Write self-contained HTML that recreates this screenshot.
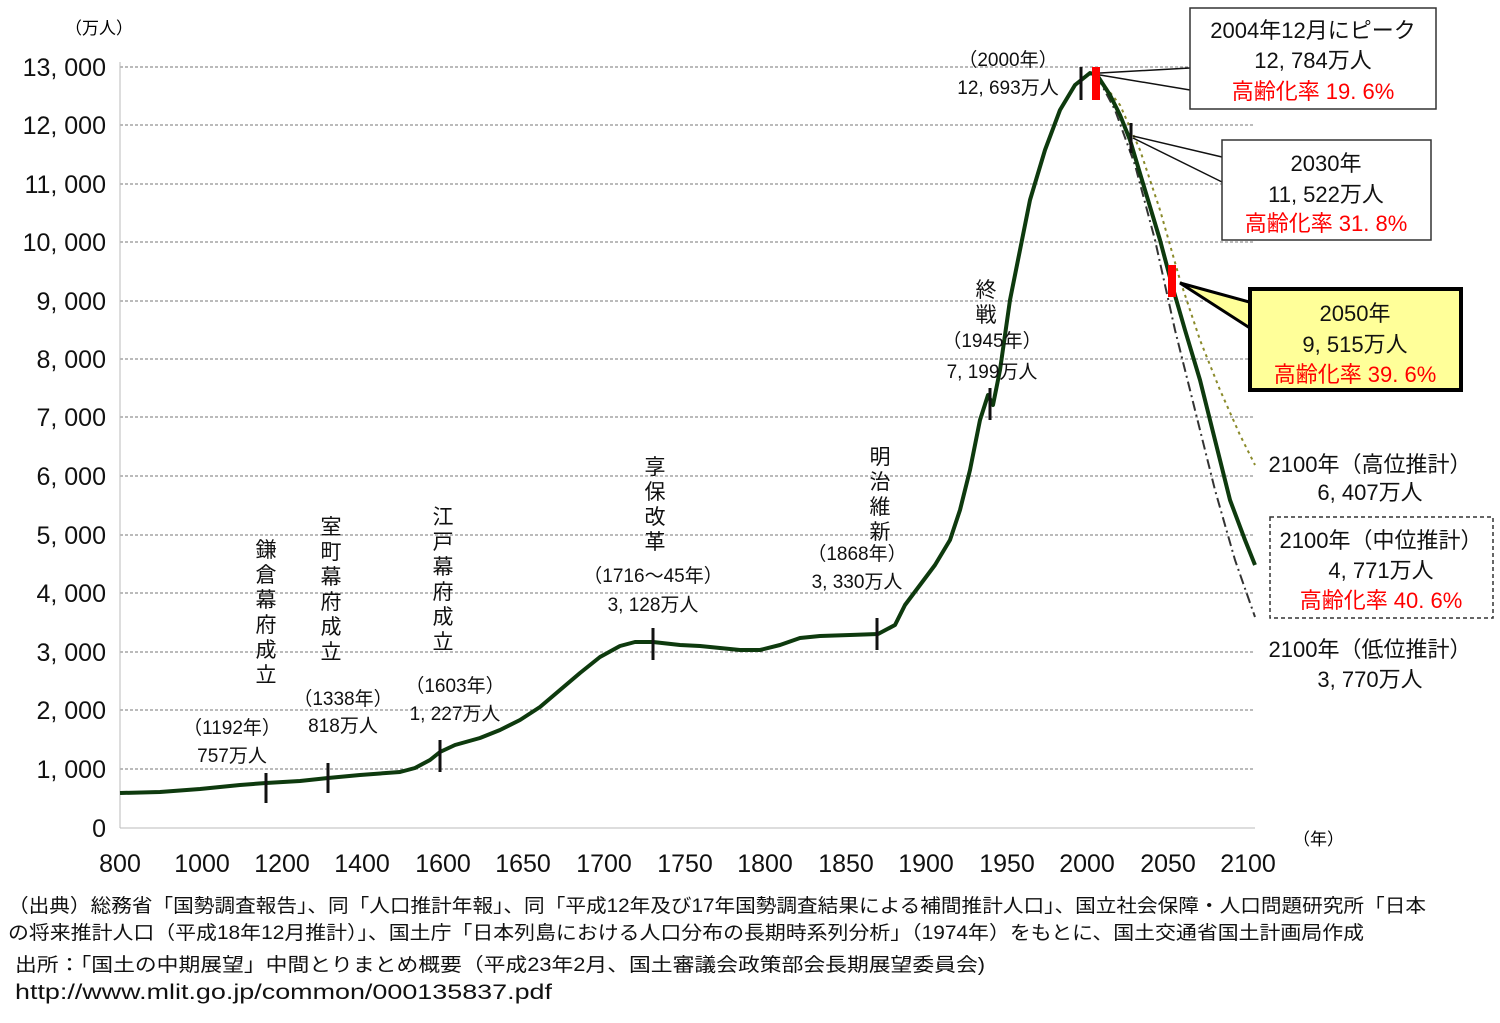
<!DOCTYPE html>
<html><head><meta charset="utf-8"><style>
body{margin:0;background:#fff}
svg text{font-family:"Liberation Sans","Noto Sans CJK JP",sans-serif;}
</style></head><body>
<svg width="1500" height="1018" viewBox="0 0 1500 1018" xmlns="http://www.w3.org/2000/svg">
<g stroke="#777" stroke-width="1" stroke-dasharray="3,2">
<line x1="120" y1="67" x2="1255" y2="67"/><line x1="120" y1="125" x2="1255" y2="125"/><line x1="120" y1="184" x2="1255" y2="184"/><line x1="120" y1="242" x2="1255" y2="242"/><line x1="120" y1="301" x2="1255" y2="301"/><line x1="120" y1="359" x2="1255" y2="359"/><line x1="120" y1="417" x2="1255" y2="417"/><line x1="120" y1="476" x2="1255" y2="476"/><line x1="120" y1="535" x2="1255" y2="535"/><line x1="120" y1="593" x2="1255" y2="593"/><line x1="120" y1="652" x2="1255" y2="652"/><line x1="120" y1="710" x2="1255" y2="710"/><line x1="120" y1="769" x2="1255" y2="769"/>
</g>
<line x1="120" y1="62" x2="120" y2="828" stroke="#bbb"/>
<line x1="120" y1="828" x2="1255" y2="828" stroke="#bbb"/>
<g font-size="25" text-anchor="end" fill="#111">
<text x="106" y="76">13, 000</text><text x="106" y="134">12, 000</text><text x="106" y="193">11, 000</text><text x="106" y="251">10, 000</text><text x="106" y="310">9, 000</text><text x="106" y="368">8, 000</text><text x="106" y="426">7, 000</text><text x="106" y="485">6, 000</text><text x="106" y="544">5, 000</text><text x="106" y="602">4, 000</text><text x="106" y="661">3, 000</text><text x="106" y="719">2, 000</text><text x="106" y="778">1, 000</text><text x="106" y="837">0</text>
</g>
<text x="65" y="34" font-size="17">（万人）</text>
<text x="1293" y="845" font-size="17">（年）</text>
<g font-size="25" text-anchor="middle" fill="#111">
<text x="120" y="872">800</text><text x="202" y="872">1000</text><text x="282" y="872">1200</text><text x="362" y="872">1400</text><text x="443" y="872">1600</text><text x="523" y="872">1650</text><text x="604" y="872">1700</text><text x="685" y="872">1750</text><text x="765" y="872">1800</text><text x="846" y="872">1850</text><text x="926" y="872">1900</text><text x="1007" y="872">1950</text><text x="1087" y="872">2000</text><text x="1168" y="872">2050</text><text x="1248" y="872">2100</text>
</g>
<path d="M1097,76 L1115,110 L1135,165 L1155,240 L1175,330 L1195,410 L1215,490 L1235,560 L1255,617" fill="none" stroke="#333" stroke-width="2" stroke-dasharray="10,4,2,4"/>
<path d="M1097,76 L1120,105 L1140,150 L1160,210 L1180,280 L1200,340 L1220,390 L1240,435 L1255,465" fill="none" stroke="#8a8a2a" stroke-width="2" stroke-dasharray="3,4"/>
<path d="M120,793 L160,792 L200,789 L240,785 L266,783 L300,781 L328,778 L360,775 L400,772 L415,768 L430,760 L440,752 L455,745 L480,738 L500,730 L520,720 L540,707 L560,690 L580,673 L600,657 L620,646 L635,642 L653,642 L680,645 L700,646 L720,648 L740,650 L760,650 L780,645 L800,638 L820,636 L850,635 L878,634 L895,625 L905,605 L920,585 L935,565 L950,540 L960,510 L970,470 L980,420 L988,395 L993,405 L1000,370 L1010,300 L1020,250 L1030,200 L1045,150 L1060,110 L1075,85 L1090,73 L1097,75 L1110,95 L1120,115 L1130,140 L1145,190 L1160,240 L1172,285 L1185,330 L1200,380 L1215,440 L1230,500 L1245,540 L1255,565" fill="none" stroke="#0e3a0e" stroke-width="4" stroke-linejoin="round"/>
<g stroke="#111" stroke-width="3">
<line x1="266" y1="773" x2="266" y2="803"/><line x1="328" y1="763" x2="328" y2="793"/><line x1="440" y1="740" x2="440" y2="772"/><line x1="653" y1="628" x2="653" y2="660"/><line x1="877" y1="618" x2="877" y2="650"/><line x1="990" y1="388" x2="990" y2="420"/><line x1="1081" y1="67" x2="1081" y2="100"/><line x1="1131" y1="123" x2="1131" y2="153"/>
</g>
<rect x="1092" y="67" width="8" height="33" fill="#f00"/>
<rect x="1168" y="265" width="8" height="32" fill="#f00"/>
<g font-size="21" fill="#111" text-anchor="middle">
<text x="266" y="557">鎌</text><text x="266" y="582">倉</text><text x="266" y="607">幕</text><text x="266" y="632">府</text><text x="266" y="657">成</text><text x="266" y="682">立</text>
<text x="331" y="534">室</text><text x="331" y="559">町</text><text x="331" y="584">幕</text><text x="331" y="609">府</text><text x="331" y="634">成</text><text x="331" y="659">立</text>
<text x="443" y="524">江</text><text x="443" y="549">戸</text><text x="443" y="574">幕</text><text x="443" y="599">府</text><text x="443" y="624">成</text><text x="443" y="649">立</text>
<text x="655" y="474">享</text><text x="655" y="499">保</text><text x="655" y="524">改</text><text x="655" y="549">革</text>
<text x="880" y="464">明</text><text x="880" y="489">治</text><text x="880" y="514">維</text><text x="880" y="539">新</text>
<text x="986" y="297">終</text><text x="986" y="322">戦</text>
</g>
<g font-size="19" fill="#111" text-anchor="middle">
<text x="232" y="734">（1192年）</text><text x="232" y="762">757万人</text>
<text x="343" y="705">（1338年）</text><text x="343" y="732">818万人</text>
<text x="455" y="692">（1603年）</text><text x="455" y="720">1, 227万人</text>
<text x="653" y="582">（1716～45年）</text><text x="653" y="611">3, 128万人</text>
<text x="857" y="560">（1868年）</text><text x="857" y="588">3, 330万人</text>
<text x="992" y="347">（1945年）</text><text x="992" y="378">7, 199万人</text>
<text x="1008" y="66">（2000年）</text><text x="1008" y="94">12, 693万人</text>
</g>
<polyline points="1100,73 1190,68" stroke="#111" stroke-width="1.5" fill="none"/>
<polyline points="1100,75 1190,90" stroke="#111" stroke-width="1.5" fill="none"/>
<rect x="1190" y="8" width="246" height="101" fill="#fff" stroke="#333" stroke-width="1.5"/>
<polyline points="1133,136 1222,157" stroke="#111" stroke-width="1.5" fill="none"/>
<polyline points="1133,138 1222,182" stroke="#111" stroke-width="1.5" fill="none"/>
<rect x="1222" y="140" width="209" height="100" fill="#fff" stroke="#333" stroke-width="1.5"/>
<polygon points="1180,283 1253,303 1253,330" fill="#ffff99" stroke="#000" stroke-width="3"/>
<rect x="1250" y="289" width="211" height="101" fill="#ffff99" stroke="#000" stroke-width="4"/>
<rect x="1253" y="303" width="4" height="25" fill="#ffff99"/>
<rect x="1270" y="517" width="223" height="101" fill="#fff" stroke="#333" stroke-width="1.5" stroke-dasharray="4,3"/>
<g font-size="22" text-anchor="middle" fill="#111">
<text x="1313" y="38">2004年12月にピーク</text><text x="1313" y="68">12, 784万人</text><text x="1313" y="99" fill="#f00">高齢化率 19. 6%</text>
<text x="1326" y="171">2030年</text><text x="1326" y="202">11, 522万人</text><text x="1326" y="231" fill="#f00">高齢化率 31. 8%</text>
<text x="1355" y="321">2050年</text><text x="1355" y="352">9, 515万人</text><text x="1355" y="382" fill="#f00">高齢化率 39. 6%</text>
<text x="1370" y="472">2100年（高位推計）</text><text x="1370" y="500">6, 407万人</text>
<text x="1381" y="548">2100年（中位推計）</text><text x="1381" y="578">4, 771万人</text><text x="1381" y="608" fill="#f00">高齢化率 40. 6%</text>
<text x="1370" y="657">2100年（低位推計）</text><text x="1370" y="687">3, 770万人</text>
</g>
<g font-size="19" fill="#111">
<text x="8" y="912" textLength="1418" lengthAdjust="spacingAndGlyphs">（出典）総務省「国勢調査報告」、同「人口推計年報」、同「平成12年及び17年国勢調査結果による補間推計人口」、国立社会保障・人口問題研究所「日本</text>
<text x="8" y="939" textLength="1356" lengthAdjust="spacingAndGlyphs">の将来推計人口（平成18年12月推計）」、国土庁「日本列島における人口分布の長期時系列分析」（1974年）をもとに、国土交通省国土計画局作成</text>
<text x="15" y="971" textLength="970" lengthAdjust="spacingAndGlyphs">出所：「国土の中期展望」中間とりまとめ概要（平成23年2月、国土審議会政策部会長期展望委員会)</text>
<text x="15" y="999" font-size="21" textLength="537" lengthAdjust="spacingAndGlyphs">http://www.mlit.go.jp/common/000135837.pdf</text>
</g>
</svg>
</body></html>
